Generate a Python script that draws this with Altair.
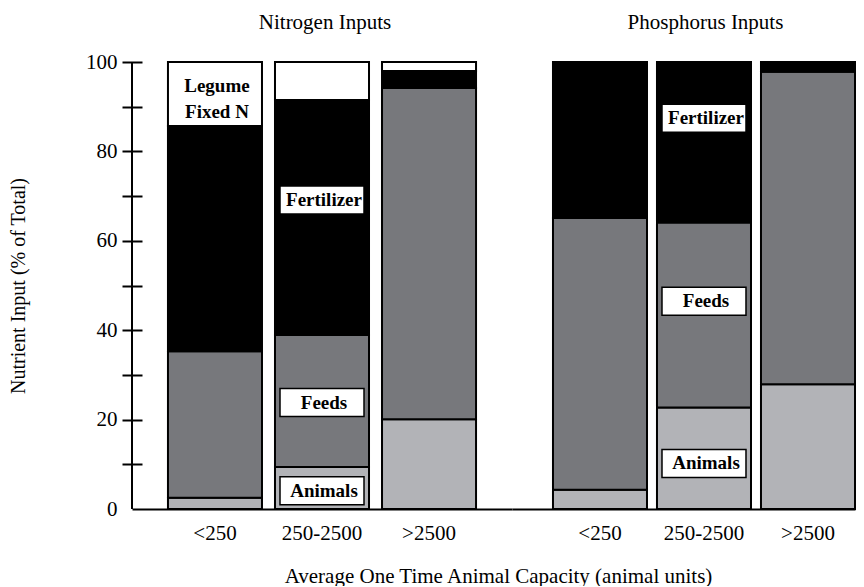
import altair as alt
import pandas as pd

# ---- data -------------------------------------------------------------
size_classes = ["<250", "250-2500", ">2500"]
components = ["Animals", "Feeds", "Fertilizer", "Legume Fixed N"]

n_animals = [2.5, 9.4, 20.1]
n_feeds = [32.8, 29.5, 74.1]
n_fertilizer = [50.4, 52.6, 3.8]
n_legume = [14.3, 8.5, 2.0]

p_animals = [4.3, 22.7, 27.9]
p_feeds = [60.8, 41.4, 69.9]
p_fertilizer = [34.9, 35.9, 2.2]

label_nutrient = ["Nitrogen", "Nitrogen", "Nitrogen", "Nitrogen",
                  "Phosphorus", "Phosphorus", "Phosphorus"]
label_class = ["<250", "250-2500", "250-2500", "250-2500",
               "250-2500", "250-2500", "250-2500"]
label_text = ["Legume\nFixed N", "Fertilizer", "Feeds", "Animals",
              "Fertilizer", "Feeds", "Animals"]
label_y = [94.6, 69.1, 23.8, 4.1, 87.4, 46.5, 10.2]
label_boxed = [False, True, True, True, True, True, True]

rows = []
for i, sc in enumerate(size_classes):
    for comp, vals in zip(components, [n_animals, n_feeds, n_fertilizer, n_legume]):
        rows.append({"nutrient": "Nitrogen", "size": sc, "component": comp,
                     "value": vals[i], "order": components.index(comp)})
    for comp, vals in zip(components[:3], [p_animals, p_feeds, p_fertilizer]):
        rows.append({"nutrient": "Phosphorus", "size": sc, "component": comp,
                     "value": vals[i], "order": components.index(comp)})
bars_df = pd.DataFrame(rows)

labels_df = pd.DataFrame({"nutrient": label_nutrient, "size": label_class,
                          "text": label_text, "y": label_y, "boxed": label_boxed})

FONT = "Liberation Serif"
H = 447
color_scale = alt.Scale(domain=components,
                        range=["#b2b3b7", "#77787c", "#000000", "#ffffff"])
y_scale = alt.Scale(domain=[0, 100], nice=False)


def panel(nutrient, width, x_scale, show_y, title_dx, title_offset):
    y_axis = alt.Axis(title="Nutrient Input (% of Total)",
                      values=list(range(0, 101, 10)),
                      labelExpr="datum.value % 20 == 0 ? datum.label : ''",
                      offset=-10, domain=False, tickSize=20, tickWidth=2,
                      tickColor={"condition": {"test": "datum.value == 0",
                                               "value": "transparent"},
                                 "value": "black"},
                      labelFont=FONT, labelFontSize=21, labelColor="black",
                      labelPadding=5, grid=False,
                      titleFont=FONT, titleFontSize=20, titleFontWeight="normal",
                      titleColor="black", titlePadding=57) if show_y else None
    x_axis = alt.Axis(title="Average One Time Animal Capacity (animal units)" if show_y else None,
                      titleX=366, titleY=56, titleFont=FONT, titleFontSize=21,
                      titleFontWeight="normal", titleColor="black",
                      labelAngle=0, labelFont=FONT, labelFontSize=21,
                      labelColor="black", labelPadding=13, ticks=False, grid=False,
                      domainColor="black", domainWidth=2)
    base_bars = alt.Chart(bars_df).transform_filter(
        alt.datum.nutrient == nutrient)
    bars = base_bars.mark_bar(stroke="black", strokeWidth=2).encode(
        x=alt.X("size:N", sort=size_classes, scale=x_scale, axis=x_axis),
        y=alt.Y("value:Q", stack="zero", scale=y_scale, axis=y_axis),
        color=alt.Color("component:N", scale=color_scale, legend=None),
        order=alt.Order("order:Q"),
    )
    layers = [bars]
    if show_y:
        layers.append(alt.Chart(bars_df).mark_rule(color="black", strokeWidth=2)
                      .encode(x=alt.value(0)))
    base_lab = alt.Chart(labels_df).transform_filter(
        alt.datum.nutrient == nutrient)
    boxes = base_lab.transform_filter(alt.datum.boxed).mark_tick(
        size=84, thickness=28, color="white", filled=True, opacity=1,
        stroke="black", strokeWidth=1.5).encode(
        x=alt.X("size:N", sort=size_classes, scale=x_scale, axis=x_axis),
        y=alt.Y("y:Q", scale=y_scale, axis=y_axis))
    texts = base_lab.mark_text(font=FONT, fontSize=19, fontWeight="bold",
                               color="black", lineBreak="\n", lineHeight=26,
                               baseline="middle", dx=2).encode(
        x=alt.X("size:N", sort=size_classes, scale=x_scale, axis=x_axis),
        y=alt.Y("y:Q", scale=y_scale, axis=y_axis),
        text="text:N")
    layers += [boxes, texts]
    return alt.layer(*layers).properties(
        width=width, height=H,
        title=alt.TitleParams(f"{nutrient} Inputs", font=FONT, fontSize=21,
                              fontWeight="normal", color="black",
                              offset=title_offset, dx=title_dx))


left = panel("Nitrogen", 380,
             alt.Scale(paddingInner=0.1215, paddingOuter=0.336, align=0.5),
             True, 3, 18)
right = panel("Phosphorus", 343,
              alt.Scale(paddingInner=0.096, paddingOuter=0.197, align=1.0),
              False, 22, 28)

chart = alt.hconcat(left, right, spacing=0, bounds="flush").configure(
    padding={"left": 0, "top": 3, "right": 0, "bottom": 0}).configure_view(
    stroke=None, strokeWidth=0)

chart.save("out.html", embed_options={"renderer": "svg", "actions": False})
